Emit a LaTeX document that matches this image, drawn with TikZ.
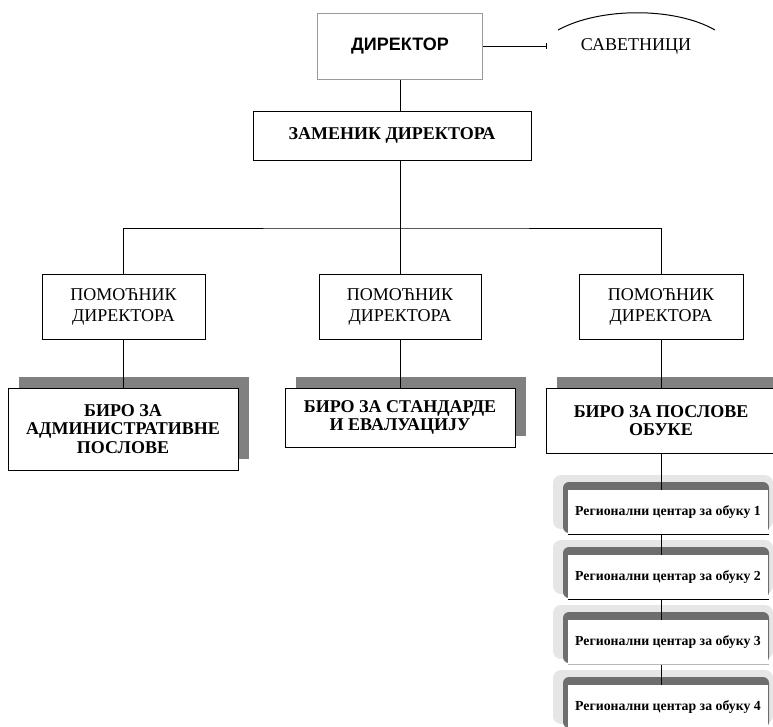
\documentclass[tikz,border=0pt]{standalone}
\usepackage{fontspec}
\setmainfont{Liberation Serif}
\newfontfamily\arialfont{Liberation Sans}
\usetikzlibrary{positioning, arrows.meta, shadows}
\definecolor{BoxGray}{HTML}{9A9A9A}
\definecolor{ShadowGray}{HTML}{808080}
\definecolor{BevelLight}{HTML}{E6E6E6}
\definecolor{BevelDark}{HTML}{6E6E6E}

\begin{document}
\begin{tikzpicture}[x=1pt, y=-1pt, line width=1pt,
    box/.style={draw=black, fill=white, align=center, inner sep=2pt,
      font=\fontsize{18}{21}\selectfont},
    bureau/.style={box, font=\bfseries\fontsize{18}{18.5}\selectfont, minimum width=230pt,
      general shadow={fill=ShadowGray, shadow xshift=11pt, shadow yshift=11pt}},
    region/.style={fill=white, minimum width=200pt, minimum height=44pt, inner sep=0pt,
      font=\bfseries\fontsize{13.8}{15}\selectfont}]
                \useasboundingbox (0,0) rectangle (773,726);
                \clip (0,0) rectangle (773,726);

                % Director and advisers
                \node[box, draw=BoxGray, font=\arialfont\bfseries\fontsize{18}{21}\selectfont,
                  minimum width=165pt, minimum height=66pt] (dir) at (400,46) {ДИРЕКТОР};
                \node[font=\fontsize{18}{21}\selectfont] (adv) at (636,46) {САВЕТНИЦИ};
                \coordinate (advtip) at (547,46);
                \draw[-{Bar[width=6pt]}] (dir.east) -- (advtip);
                \draw (558,30) .. controls (600,7) and (675,7) .. (715,30);

                % Deputy
                \node[box, font=\bfseries\fontsize{18}{21}\selectfont,
                  minimum width=278pt, minimum height=49pt] (dep) at (392,135.5) {ЗАМЕНИК ДИРЕКТОРА};
                \coordinate (bus) at (400,228);

                % Assistants
                \node[box, minimum width=163pt, minimum height=65pt] (pa) at (123.5,306.5) {ПОМОЋНИК\\ДИРЕКТОРА};
                \node[box, minimum width=162pt, minimum height=65pt] (pb) at (400,306.5) {ПОМОЋНИК\\ДИРЕКТОРА};
                \node[box, minimum width=164pt, minimum height=65pt] (pc) at (661,306.5) {ПОМОЋНИК\\ДИРЕКТОРА};

                % Bureaus
                \node[bureau, minimum height=82pt] (ba) at (123,429) {БИРО ЗА\\АДМИНИСТРАТИВНЕ\\ПОСЛОВЕ};
                \node[bureau, minimum height=59pt] (bb) at (400,417.5) {БИРО ЗА СТАНДАРДЕ\\И ЕВАЛУАЦИЈУ};
                \node[bureau, minimum height=65pt] (bc) at (661,420.5) {БИРО ЗА ПОСЛОВЕ\\ОБУКЕ};

                % Regional centres (bevelled)
                \foreach \i/\y in {1/512, 2/577, 3/642, 4/707} {
                  \fill[BevelLight, rounded corners=8pt] (553,\y-37) rectangle (773,\y+17);
                  \fill[BevelDark, rounded corners=6pt] (563,\y-30) rectangle (769,\y+21);
                  \node[region] (r\i) at (668,\y) {Регионални центар за обуку \i};
                }

                % Connectors
                \draw (dir.south) -- (dir.south |- dep.north);
                \draw (dir.south |- dep.south) -- (bus);
                \draw (pa.north) |- (bus) -| (pc.north);
                \draw (bus) -- (pb.north);
                \draw (pa.south) -- (pa.south |- ba.north);
                \draw (pb.south) -- (pb.south |- bb.north);
                \draw (pc.south) -- (pc.south |- bc.north);
                \draw (bc.south) -- (bc.south |- r1.north);
                \foreach \a/\b in {r1/r2, r2/r3, r3/r4}
                  \draw (bc.south |- \a.south) -- (bc.south |- \b.north);
                \draw (r1.south west) -- (r1.south east);
                \draw (r2.south west) -- (r2.south east);
                \draw[BevelLight!80!black, line width=0.6pt] (r3.south west) -- (r3.south east);
            \end{tikzpicture}
\end{document}
